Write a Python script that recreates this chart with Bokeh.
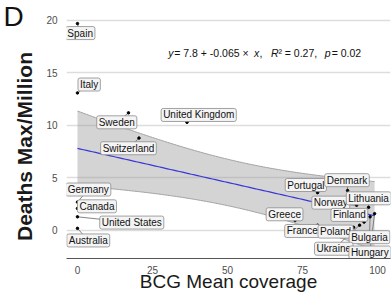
import numpy as np
from bokeh.plotting import figure
from bokeh.models import Range1d, Label, ColumnDataSource, FixedTicker
from bokeh.core.properties import value
from bokeh.embed import file_html
from bokeh.resources import INLINE

# ---- data ----
countries = ["Spain", "Italy", "Sweden", "United Kingdom", "Switzerland",
             "Germany", "Canada", "United States", "Australia", "Portugal",
             "Denmark", "Norway", "Lithuania", "Finland", "Greece", "France",
             "Poland", "Bulgaria", "Ukraine", "Hungary"]
bcg_coverage = [0, 0, 17, 36.5, 20.5, 0, 0, 0, 0, 80,
                90, 93, 97, 95.5, 72.5, 80, 92, 97.5, 94, 99]
deaths_max = [19.7, 13.1, 11.2, 10.3, 8.8, 2.7, 2.1, 1.3, 0.2, 3.6,
              3.8, 2.4, 2.2, 0.8, 0.95, 0.5, 0.3, 1.3, 0.5, 1.6]
x_ticks = [0, 25, 50, 75, 100]
y_ticks = [0, 5, 10, 15, 20]
eq_intercept = 7.8
eq_slope = -0.065
eq_r2 = 0.27
eq_p = 0.02

# ---- label placement (layout, repelled label centres in data units) ----
label_x = [0.9, 3.9, 13.1, 40.4, 17.0, 3.6, 6.5, 18.1, 3.6, 76.1,
           89.8, 84.4, 97.0, 90.6, 69.0, 74.9, 86.0, 97.3, 85.4, 97.4]
label_y = [18.8, 13.9, 10.3, 11.0, 7.83, 3.9, 2.3, 0.75, -0.95, 4.33,
           4.79, 2.65, 3.06, 1.48, 1.54, -0.05, -0.11, -0.64, -1.74, -2.1]

FONT = "Liberation Sans"

# ---- linear fit with 95% confidence band ----
xa = np.array(bcg_coverage, dtype=float)
ya = np.array(deaths_max, dtype=float)
slope, intercept = np.polyfit(xa, ya, 1)
n = len(xa)
resid = ya - (intercept + slope * xa)
s = np.sqrt(np.sum(resid ** 2) / (n - 2))
sxx = np.sum((xa - xa.mean()) ** 2)
t_crit = 2.101  # t(0.975, df = 18)
xs = np.linspace(xa.min(), xa.max(), 100)
fit = intercept + slope * xs
half = t_crit * s * np.sqrt(1.0 / n + (xs - xa.mean()) ** 2 / sxx)

p = figure(width=392, height=294, output_backend="svg", toolbar_location=None,
           x_range=Range1d(-3.65, 104.3), y_range=Range1d(-2.67, 20.95),
           min_border_left=65, min_border_right=2, min_border_top=10,
           min_border_bottom=34)
p.outline_line_color = None
p.background_fill_color = "white"

# grid
p.xgrid.visible = False
p.ygrid.ticker = FixedTicker(ticks=y_ticks)
p.ygrid.grid_line_color = "#dddddd"
p.ygrid.grid_line_width = 1.5

# axes
p.xaxis.ticker = FixedTicker(ticks=x_ticks)
p.yaxis.ticker = FixedTicker(ticks=y_ticks)
for ax in (p.xaxis[0], p.yaxis[0]):
    ax.major_tick_line_color = None
    ax.minor_tick_line_color = None
    ax.major_label_text_font = FONT
    ax.major_label_text_font_size = "10px"
    ax.major_label_text_color = "#4d4d4d"
p.yaxis.axis_line_color = None
p.xaxis.axis_line_color = "#555555"
p.xaxis.axis_line_width = 1
p.xaxis.major_label_standoff = 1
p.yaxis.major_label_standoff = 3

p.xaxis.axis_label = "BCG Mean coverage"
p.xaxis.axis_label_text_font = FONT
p.xaxis.axis_label_text_font_size = "19px"
p.xaxis.axis_label_text_font_style = "normal"
p.xaxis.axis_label_text_color = "#1a1a1a"
p.xaxis.axis_label_standoff = -6

# y title and panel letter, placed in the left panel (canvas units)
p.add_layout(Label(x=24, y=146, x_units="canvas", y_units="canvas",
                   text="Deaths Max/Million", text_font=FONT,
                   text_font_size="21px", text_font_style="bold",
                   text_color="#1a1a1a", angle=np.pi / 2,
                   text_align="center", text_baseline="middle"), "left")
p.add_layout(Label(x=3, y=0, x_units="canvas", y_units="canvas", text="D",
                   text_font=FONT, text_font_size="28px", text_baseline="top",
                   text_align="left", text_color="#111111"), "left")

# confidence band and fit line
p.varea(x=xs, y1=fit - half, y2=fit + half, fill_color="#999999", fill_alpha=0.42)
p.line(xs, fit + half, line_color="#a3a3a3", line_width=1)
p.line(xs, fit - half, line_color="#a3a3a3", line_width=1)
p.line(xs, fit, line_color="#3838d8", line_width=1.2)

src = ColumnDataSource(dict(x=bcg_coverage, y=deaths_max, name=countries,
                            lx=label_x, ly=label_y))
# leader segments
p.segment(x0="x", y0="y", x1="lx", y1="ly", source=src,
          line_color="#666666", line_width=0.8)
# points
p.scatter(x="x", y="y", source=src, size=2.5, color="black")
# labels
p.text(x="lx", y="ly", text="name", source=src,
       text_font=value(FONT), text_font_size="10px", text_color="#111111",
       text_align="center", text_baseline="middle",
       background_fill_color="#f4f4f4", border_line_color="#8c8c8c",
       border_line_width=0.8, padding=(2, 1), border_radius=2)

# equation annotation
def px2x(px):
    return (px - 76.0) / 3.01

eq_y = 16.86
pieces = [
    (167, "y", "italic"),
    (173, " = " + str(eq_intercept) + " + " + str(eq_slope) + " \u00d7 ", "normal"),
    (253, "x", "italic"),
    (258.5, ",", "normal"),
    (270, "R", "italic"),
    (277.5, "\u00b2 = " + str(eq_r2) + ",", "normal"),
    (324, "p", "italic"),
    (331, " = " + str(eq_p), "normal"),
]
for px, txt, style in pieces:
    p.add_layout(Label(x=px2x(px), y=eq_y, text=txt, text_font=FONT,
                       text_font_size="10.5px", text_font_style=style,
                       text_color="#111111", text_baseline="middle",
                       text_align="left"))

open("out.html", "w").write(file_html(p, INLINE))
